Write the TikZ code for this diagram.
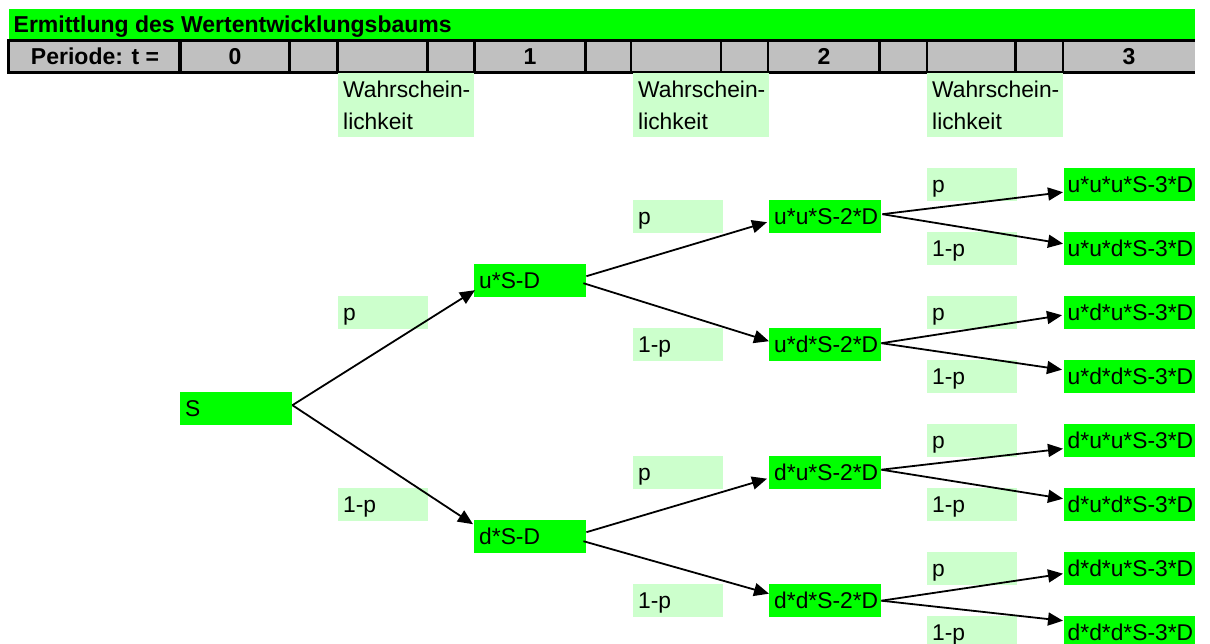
\documentclass[tikz,border=0pt]{standalone}
\usepackage{fontspec}
\setmainfont{Liberation Sans}
\usetikzlibrary{arrows.meta}
\definecolor{cellgreen}{HTML}{00FF00}
\definecolor{palegreen}{HTML}{CCFFCC}
\definecolor{headgray}{HTML}{C0C0C0}
\exhyphenpenalty=10000
\hyphenpenalty=10000

\begin{document}
\begin{tikzpicture}[x=1pt,y=-1pt,
  every node/.style={font=\fontsize{22.8}{32}\selectfont},
  cellbase/.style={anchor=north west, inner ysep=0pt, inner xsep=5pt,
    minimum height=33pt, text height=16pt, text depth=0pt, align=left},
  valnode/.style={cellbase, fill=cellgreen, text width=102pt},
  leafnode/.style={cellbase, fill=cellgreen, inner xsep=3.5pt, text width=124pt},
  probnode/.style={cellbase, fill=palegreen, text width=80pt},
  wnode/.style={anchor=north west, fill=palegreen, inner xsep=5pt, inner ysep=0pt,
    text width=126pt, minimum height=64pt, align=left},
  headtext/.style={font=\fontsize{23}{27}\selectfont\bfseries, inner sep=0pt,
    text height=16pt, text depth=0pt},
  branch/.style={line width=1.8pt, -{Triangle[length=15pt,width=13pt]}},
  gridline/.style={line width=2.6pt}
]
\useasboundingbox (0,0) rectangle (1210,644);
\clip (0,0) rectangle (1210,644);

% title bar
\fill[cellgreen] (9,9) rectangle (1195,40);
\node[headtext, anchor=base west] (title) at (13.5,33) {Ermittlung des Wertentwicklungsbaums};

% period header row
\fill[headgray] (8.6,40.5) rectangle (1195,72.4);
\draw[gridline] (7.3,40.5) -- (1195,40.5);
\draw[line width=3.2pt] (7.3,72.4) -- (1195,72.4);
\draw[line width=3.8pt] (180,40.5) -- (180,72.4);
\foreach \x in {8.6,289.5,337.5,427.5,474.7,585.5,631,721,768,879.5,927,1015.3,1063}
  \draw[gridline] (\x,40.5) -- (\x,72.4);
\node[headtext, anchor=base] (hP) at (95,65) {Periode: t =};
\node[headtext, anchor=base] (h0) at (235,65) {0};
\node[headtext, anchor=base] (h1) at (530,65) {1};
\node[headtext, anchor=base] (h2) at (824,65) {2};
\node[headtext, anchor=base] (h3) at (1129,65) {3};

% probability column captions
\node[wnode] (w1) at (338,73) {Wahrschein-\\lichkeit};
\node[wnode] (w2) at (633,73) {Wahrschein-\\lichkeit};
\node[wnode] (w3) at (927,73) {Wahrschein-\\lichkeit};

% probabilities
\node[probnode] (p1u) at (338,296) {p};
\node[probnode] (p1d) at (338,488) {1-p};
\node[probnode] (p2a) at (633,200) {p};
\node[probnode] (p2b) at (633,328) {1-p};
\node[probnode] (p2c) at (633,456) {p};
\node[probnode] (p2d) at (633,584) {1-p};
\node[probnode] (p3a) at (927,168) {p};
\node[probnode] (p3b) at (927,232) {1-p};
\node[probnode] (p3c) at (927,296) {p};
\node[probnode] (p3d) at (927,360) {1-p};
\node[probnode] (p3e) at (927,424) {p};
\node[probnode] (p3f) at (927,488) {1-p};
\node[probnode] (p3g) at (927,552) {p};
\node[probnode] (p3h) at (927,616) {1-p};

% values
\node[valnode] (S) at (180,392) {S};
\node[valnode] (uSD) at (474,264) {u*S-D};
\node[valnode] (dSD) at (474,520) {d*S-D};
\node[valnode] (uuS) at (769,200) {u*u*S-2*D};
\node[valnode] (udS) at (769,328) {u*d*S-2*D};
\node[valnode] (duS) at (769,456) {d*u*S-2*D};
\node[valnode] (ddS) at (769,584) {d*d*S-2*D};
\node[leafnode] (uuu) at (1064,168) {u*u*u*S-3*D};
\node[leafnode] (uud) at (1064,232) {u*u*d*S-3*D};
\node[leafnode] (udu) at (1064,296) {u*d*u*S-3*D};
\node[leafnode] (udd) at (1064,360) {u*d*d*S-3*D};
\node[leafnode] (duu) at (1064,424) {d*u*u*S-3*D};
\node[leafnode] (dud) at (1064,488) {d*u*d*S-3*D};
\node[leafnode] (ddu) at (1064,552) {d*d*u*S-3*D};
\node[leafnode] (ddd) at (1064,616) {d*d*d*S-3*D};

% branches, period 0 -> 1
\draw[branch] ([yshift=3.5pt]S.east) -- ([xshift=1pt,yshift=-9.5pt]uSD.west);
\draw[branch] ([yshift=3.5pt]S.east) -- ([xshift=-1pt,yshift=12.5pt]dSD.west);
% period 1 -> 2
\draw[branch] ([yshift=4.5pt]uSD.east) -- ([xshift=-2pt,yshift=-5.5pt]uuS.west);
\draw[branch] ([xshift=-3pt,yshift=-2.5pt]uSD.east) -- ([yshift=3.5pt]udS.west);
\draw[branch] ([yshift=4.5pt]dSD.east) -- ([xshift=-2pt,yshift=-6pt]duS.west);
\draw[branch] ([xshift=-3pt,yshift=-4.5pt]dSD.east) -- ([yshift=7pt]ddS.west);
% period 2 -> 3
\draw[branch] ([xshift=1pt,yshift=2.5pt]uuS.east) -- ([xshift=-1pt,yshift=-7.5pt]uuu.west);
\draw[branch] ([xshift=1pt,yshift=2.5pt]uuS.east) -- ([xshift=-1pt,yshift=5pt]uud.west);
\draw[branch] ([yshift=1.5pt]udS.east) -- ([xshift=-2pt,yshift=-2.5pt]udu.west);
\draw[branch] ([yshift=1.5pt]udS.east) -- ([xshift=-2pt,yshift=7pt]udd.west);
\draw[branch] ([yshift=3pt]duS.east) -- ([xshift=-1pt,yshift=-8pt]duu.west);
\draw[branch] ([yshift=3pt]duS.east) -- ([xshift=-1pt,yshift=6pt]dud.west);
\draw[branch] (ddS.east) -- ([xshift=-1pt,yshift=-5pt]ddu.west);
\draw[branch] (ddS.east) -- ([xshift=-1pt,yshift=12pt]ddd.west);
\end{tikzpicture}
\end{document}
